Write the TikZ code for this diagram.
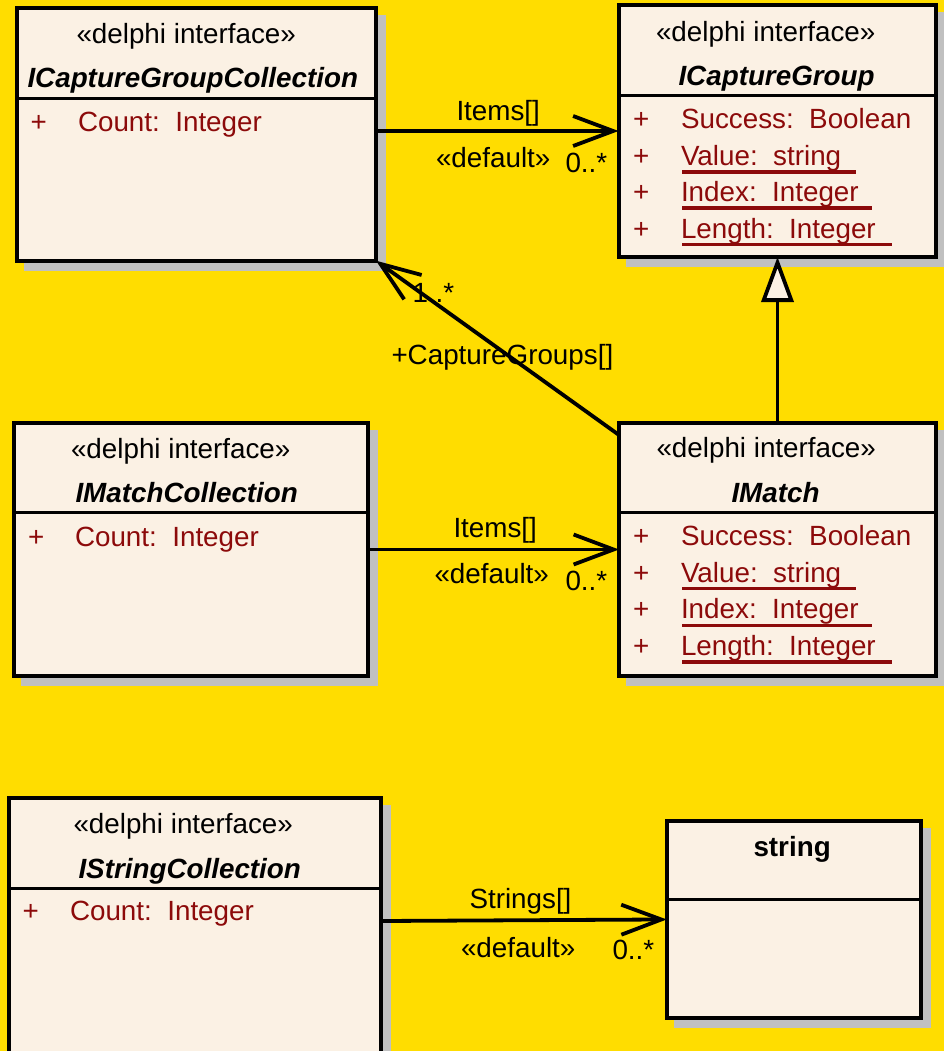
\documentclass[tikz,border=0pt]{standalone}
\usepackage{fontspec}
\setmainfont{Liberation Sans}
\usetikzlibrary{arrows.meta,backgrounds}
\definecolor{bgyellow}{RGB}{255,221,0}
\definecolor{cream}{RGB}{251,241,228}
\definecolor{attrred}{RGB}{140,10,10}
\definecolor{shgrey}{RGB}{192,192,192}
\begin{document}
\begin{tikzpicture}[x=1pt,y=-1pt,
 every node/.style={font=\fontsize{27.8}{33}\selectfont, inner sep=0pt, outer sep=0pt},
 umlbox/.style={draw=black, line width=4pt, fill=cream, anchor=north west, rectangle},
 txt/.style={anchor=base west, text=black},
 cname/.style={txt, font=\fontsize{27.8}{33}\selectfont\bfseries\itshape},
 tname/.style={txt, font=\fontsize{27.8}{33}\selectfont\bfseries},
 attr/.style={txt, text=attrred},
 sepline/.style={line width=3pt, draw=black},
 conn/.style={line width=3.8pt, draw=black},
 assoc/.style={conn, -{Straight Barb[length=40pt,width=30pt]}},
 gen/.style={conn, -{Triangle[open,fill=cream,length=45pt,width=32pt]}},
 uline/.style={line width=3.5pt, draw=attrred}
]
\useasboundingbox (0,0) rectangle (944,1051);

% class boxes
\node[umlbox, minimum width=359.5pt, minimum height=253pt] (A) at (16.5,7.7) {};
\node[umlbox, minimum width=317pt, minimum height=252pt] (B) at (618.5,5) {};
\node[umlbox, minimum width=354.5pt, minimum height=253pt] (C) at (13.5,423) {};
\node[umlbox, minimum width=317pt, minimum height=253pt] (D) at (619,423) {};
\node[umlbox, minimum width=372.5pt, minimum height=300pt] (E) at (8.5,798) {};
\node[umlbox, minimum width=254pt, minimum height=197.5pt] (F) at (666.7,820.7) {};

% separators
\draw[sepline] (A.west |- 0,98.3) -- (A.east |- 0,98.3);
\draw[sepline] (B.west |- 0,95.7) -- (B.east |- 0,95.7);
\draw[sepline] (C.west |- 0,512.7) -- (C.east |- 0,512.7);
\draw[sepline] (D.west |- 0,512.7) -- (D.east |- 0,512.7);
\draw[sepline] (E.west |- 0,888.3) -- (E.east |- 0,888.3);
\draw[sepline] (F.west |- 0,899) -- (F.east |- 0,899);

% ICaptureGroupCollection
\node[txt] (As) at (76.5,43.5) {«delphi interface»};
\node[cname] (An) at (27.5,87.8) {ICaptureGroupCollection};
\node[attr] (Ap) at (30.5,131.5) {+};
\node[attr] (Aa) at (78,131.5) {Count:\ \ Integer};

% ICaptureGroup
\node[txt] (Bs) at (656,41.2) {«delphi interface»};
\node[cname] (Bn) at (678.5,85.5) {ICaptureGroup};
\node[attr] (Bp1) at (633,128.2) {+};
\node[attr] (Bp2) at (633,165.5) {+};
\node[attr] (Bp3) at (633,201.5) {+};
\node[attr] (Bp4) at (633,238.2) {+};
\node[attr] (Ba1) at (681,128.2) {Success:\ \ Boolean};
\node[attr] (Ba2) at (681,165.5) {Value:\ \ string};
\node[attr] (Ba3) at (681,201.5) {Index:\ \ Integer};
\node[attr] (Ba4) at (681,238.2) {Length:\ \ Integer};
\draw[uline] ([shift={(1pt,-6.5pt)}]Ba2.base west) -- ++(174,0);
\draw[uline] ([shift={(1pt,-6.5pt)}]Ba3.base west) -- ++(190,0);
\draw[uline] ([shift={(1pt,-6.5pt)}]Ba4.base west) -- ++(210,0);

% IMatchCollection
\node[txt] (Cs) at (71,458.2) {«delphi interface»};
\node[cname] (Cn) at (75.5,502.8) {IMatchCollection};
\node[attr] (Cp) at (28,546.5) {+};
\node[attr] (Ca) at (75,546.5) {Count:\ \ Integer};

% IMatch
\node[txt] (Ds) at (656.5,457.2) {«delphi interface»};
\node[cname] (Dn) at (731.5,502.2) {IMatch};
\node[attr] (Dp1) at (633,545.5) {+};
\node[attr] (Dp2) at (633,582.2) {+};
\node[attr] (Dp3) at (633,618.8) {+};
\node[attr] (Dp4) at (633,655.5) {+};
\node[attr] (Da1) at (681,545.5) {Success:\ \ Boolean};
\node[attr] (Da2) at (681,582.2) {Value:\ \ string};
\node[attr] (Da3) at (681,618.8) {Index:\ \ Integer};
\node[attr] (Da4) at (681,655.5) {Length:\ \ Integer};
\draw[uline] ([shift={(1pt,-6.5pt)}]Da2.base west) -- ++(174,0);
\draw[uline] ([shift={(1pt,-6.5pt)}]Da3.base west) -- ++(190,0);
\draw[uline] ([shift={(1pt,-6.5pt)}]Da4.base west) -- ++(210,0);

% IStringCollection
\node[txt] (Es) at (73.5,833.8) {«delphi interface»};
\node[cname] (En) at (78.5,878.8) {IStringCollection};
\node[attr] (Ep) at (22.5,920.5) {+};
\node[attr] (Ea) at (70,920.5) {Count:\ \ Integer};

% string
\node[tname] (Fn) at (753.5,856.5) {string};

% connectors
\draw[assoc] (A.east |- B.west) -- (B.west);
\draw[assoc] (C.east) -- (D.west);
\draw[assoc] ([yshift=27pt]E.east) -- (F.west);
\draw[assoc] ([yshift=-12pt]D.north west) -- (A.south east);
\draw[gen] (D.north) -- (D.north |- B.south);

% connector labels
\node[txt] (l1a) at (456.5,120.5) {Items[]};
\node[txt] (l1b) at (436,167.8) {«default»};
\node[txt] (l1c) at (565.5,172.2) {0..*};
\node[txt] (l2a) at (453.5,537.2) {Items[]};
\node[txt] (l2b) at (434.5,583.8) {«default»};
\node[txt] (l2c) at (565.5,590.5) {0..*};
\node[txt] (l3a) at (469.5,908.8) {Strings[]};
\node[txt] (l3b) at (461,957.2) {«default»};
\node[txt] (l3c) at (612.5,959.8) {0..*};
\node[txt] (l4a) at (412.5,302.2) {1..*};
\node[txt] (l4b) at (391.5,364.5) {+CaptureGroups[]};

\begin{scope}[on background layer]
\fill[bgyellow] (0,0) rectangle (944,1051);
\foreach \n in {A,B,C,D,E,F}
  \fill[shgrey] ([shift={(7pt,-7pt)}]\n.north west) rectangle ([shift={(10pt,-10pt)}]\n.south east);
\end{scope}
\end{tikzpicture}
\end{document}
